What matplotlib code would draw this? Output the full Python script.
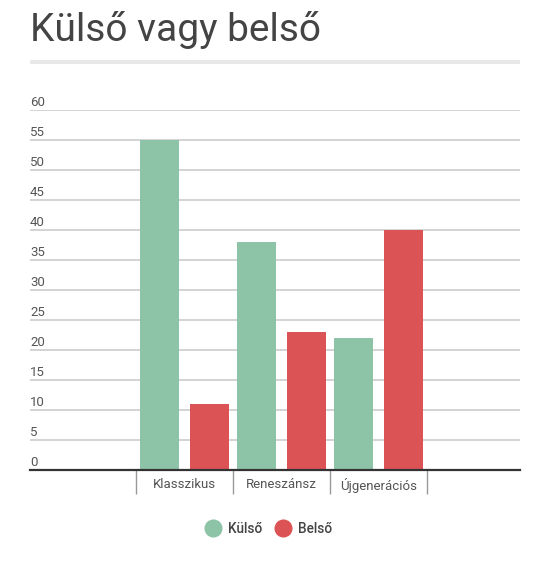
import numpy as np
import matplotlib
matplotlib.use('Agg')
import matplotlib.pyplot as plt
from matplotlib.lines import Line2D
import matplotlib.transforms as mtransforms

plt.rcParams['font.family'] = ['Roboto', 'DejaVu Sans']

categories = ['Klasszikus', 'Reneszánsz', 'Újgenerációs']
kulso = [55, 38, 22]
belso = [11, 23, 40]
yticks = [0, 5, 10, 15, 20, 25, 30, 35, 40, 45, 50, 55, 60]

green = '#8dc3a7'
red = '#dc5356'

fig = plt.figure(figsize=(5.47, 5.62), dpi=100)
ax = fig.add_axes([30/547, 92/562, 490/547, 360/562])

x = np.arange(len(categories))
w = 0.402
ax.bar(x - 0.258, kulso, w, color=green, zorder=3)
ax.bar(x + 0.258, belso, w, color=red, zorder=3)

ax.set_xlim(-1.59, 3.46)
ax.set_ylim(0, 60)

# grid lines
for v in yticks[1:]:
    ax.axhline(v, color='#cccccc', lw=1.2, zorder=1)
ax.set_yticks([])

# y labels sit above the grid lines
trans = mtransforms.blended_transform_factory(ax.transAxes, ax.transData)
off = mtransforms.offset_copy(trans, fig=fig, y=4, units='dots')
for v in yticks:
    ax.text(0, v, str(v), transform=off, ha='left', va='baseline',
            fontsize=9.5, color='#555555')

for s in ['top', 'right', 'left']:
    ax.spines[s].set_visible(False)
ax.spines['bottom'].set_color('#333333')
ax.spines['bottom'].set_linewidth(1.6)
ax.spines['bottom'].set_zorder(4)

ax.set_xticks(x)
ax.set_xticklabels(categories, fontsize=9.5, color='#555555')
ax.tick_params(axis='x', which='major', length=0, pad=6)
ax.set_xticks(np.arange(-0.5, len(categories), 1), minor=True)
ax.tick_params(axis='x', which='minor', length=17, width=1, color='#999999')

# title and band
fig.text(30/547, 1 - 30/562, 'Külső vagy belső', fontsize=28, color='#444444',
         ha='left', va='center')
fig.add_artist(plt.Rectangle((30/547, 1 - 64/562), 490/547, 4/562,
                             transform=fig.transFigure, color='#e8e8e8', lw=0))

handles = [Line2D([], [], marker='o', ls='', markersize=12, color=green),
           Line2D([], [], marker='o', ls='', markersize=12, color=red)]
leg = fig.legend(handles, ['Külső', 'Belső'], loc='center',
                 bbox_to_anchor=(268/547, 33/562), ncol=2, frameon=False,
                 handletextpad=0.4, columnspacing=0.9, handlelength=1.3)
for t in leg.get_texts():
    t.set_fontsize(9.8)
    t.set_color('#444444')
    t.set_fontweight('medium')

fig.savefig('out.png', dpi=100)
